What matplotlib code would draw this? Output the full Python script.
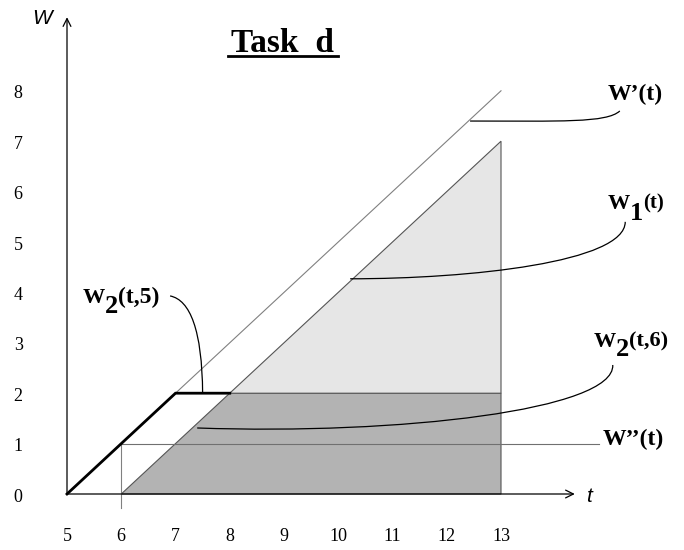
import numpy as np
import matplotlib.pyplot as plt
from matplotlib.path import Path
from matplotlib.patches import PathPatch, Polygon
from matplotlib.transforms import IdentityTransform

# datos del diagrama
t_ticks = [5, 6, 7, 8, 9, 10, 11, 12, 13]
w_ticks = [0, 1, 2, 3, 4, 5, 6, 7, 8]

# W'(t): linea de referencia
wp_t = [5, 13]
wp_w = [0, 8]
# W2(t,5): linea gruesa
w25_t = [5, 7, 8]
w25_w = [0, 2, 2]
# W1(t): triangulo gris claro
w1_t = [8, 13, 13]
w1_w = [2, 7, 2]
# W2(t,6): region gris oscuro
w26_t = [6, 8, 13, 13]
w26_w = [0, 2, 2, 0]
# W''(t)
wpp_t = [6, 14.8]
wpp_w = [1, 1]

# conectores (bezier cubicas, en coords de datos)
conectores = [
    [(12.43, 7.40), (14.09, 7.40), (14.95, 7.36), (15.19, 7.60)],
    [(10.22, 4.27), (12.43, 4.27), (15.29, 4.60), (15.29, 5.40)],
    [(7.40, 1.31), (11.14, 1.17), (15.10, 1.67), (15.06, 2.56)],
    [(6.90, 3.93), (7.27, 3.85), (7.49, 3.25), (7.50, 2.00)],
]

# etiquetas: (t, w, [(texto, tamano, desplazamiento_px)])
etiquetas = [
    (5.28, 3.79, [("W", 16, 0), ("2", 19, -10), ("(t,5)", 17, 0)]),
    (14.97, 7.82, [("W\u2019(t)", 17, 0)]),
    (14.97, 5.65, [("W", 16, 0), ("1", 19, -11), ("(t)", 15, 1)]),
    (14.70, 2.92, [("W", 16, 0), ("2", 19, -9), ("(t,6)", 16, 0)]),
    (14.88, 0.97, [("W\u2019\u2019(t)", 17, 0)]),
]

fig = plt.figure(figsize=(6.84, 5.5), dpi=100)
ax = fig.add_axes([0, 0, 1, 1])
ax.set_xlim(5 - 67 / 54.25, 5 + 617 / 54.25)
ax.set_ylim(-56 / 50.4, 494 / 50.4)
ax.axis('off')

serif = 'Liberation Serif'

# regiones
ax.add_patch(Polygon(list(zip(w26_t, w26_w)), closed=True, facecolor='#b3b3b3',
                     edgecolor='#555555', lw=0.8, zorder=1))
ax.add_patch(Polygon(list(zip(w1_t, w1_w)), closed=True, facecolor='#e6e6e6',
                     edgecolor='#555555', lw=0.8, zorder=1))

# lineas
ax.plot(wp_t, wp_w, color='#808080', lw=0.8, zorder=2)
ax.plot(wpp_t, wpp_w, color='#707070', lw=0.8, zorder=2)
ax.plot([6, 6], [-0.28, 1], color='#808080', lw=0.8, zorder=2)
ax.plot(w25_t, w25_w, color='black', lw=2.0, zorder=3, solid_joinstyle='miter')

# ejes con flechas
ax.annotate('', xy=(14.36, 0), xytext=(5, 0),
            arrowprops=dict(arrowstyle='->', lw=0.9, color='black', shrinkA=0, shrinkB=0,
                            mutation_scale=14))
ax.annotate('', xy=(5, 9.46), xytext=(5, 0),
            arrowprops=dict(arrowstyle='->', lw=0.9, color='black', shrinkA=0, shrinkB=0,
                            mutation_scale=14))
ax.text(4.54, 9.44, 'W', fontsize=15, style='italic', family='Liberation Sans',
        ha='center', va='center')
ax.text(14.62, -0.04, 't', fontsize=15, style='italic', family='Liberation Sans',
        ha='center', va='center')

for t in t_ticks:
    ax.text(t, -0.85, str(t), fontsize=13, family=serif, ha='center', va='center')
for w in w_ticks:
    ax.text(4.10, w - 0.06, str(w), fontsize=13, family=serif, ha='center', va='center')

# conectores
for pts in conectores:
    path = Path(pts, [Path.MOVETO, Path.CURVE4, Path.CURVE4, Path.CURVE4])
    ax.add_patch(PathPatch(path, facecolor='none', edgecolor='black', lw=0.9, zorder=4))

# titulo
ax.text(8.98, 8.77, 'Task  d', fontsize=24, fontweight='bold', family=serif,
        ha='center', va='baseline')
ax.plot([7.97, 10.0], [8.69, 8.69], color='black', lw=2.0)

# etiquetas con subindices grandes
fig.canvas.draw()
renderer = fig.canvas.get_renderer()
for t, w, partes in etiquetas:
    px, py = ax.transData.transform((t, w))
    for s, size, dy in partes:
        txt = ax.text(px, py + dy, s, fontsize=size, fontweight='bold', family=serif,
                      ha='left', va='baseline', transform=IdentityTransform())
        px = txt.get_window_extent(renderer).x1

fig.savefig('out.png', dpi=100)
